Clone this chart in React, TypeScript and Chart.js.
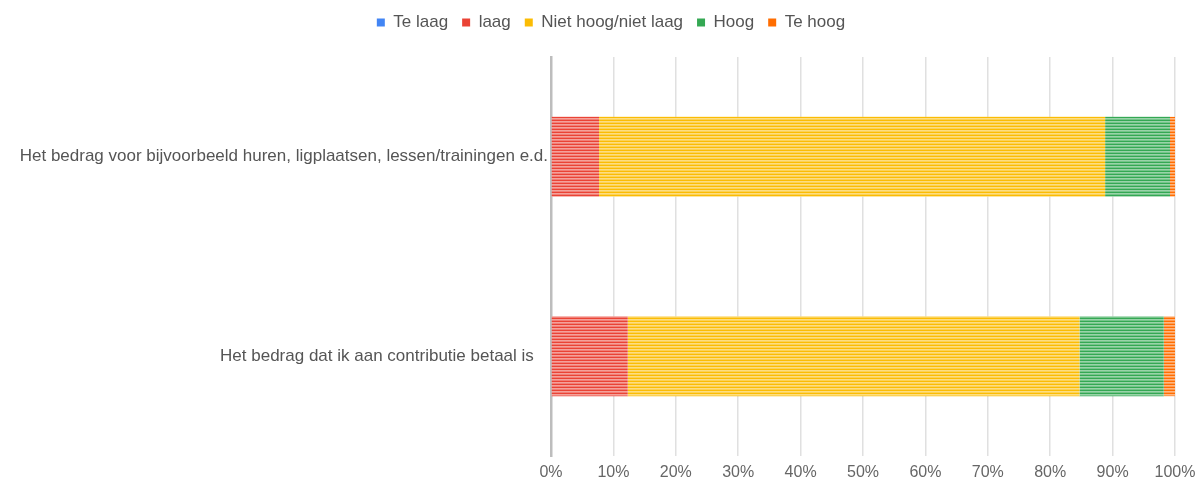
import React, { useEffect, useRef } from "react";
import { Chart, registerables } from "chart.js";

Chart.register(...registerables);

const categories = [
  "Het bedrag voor bijvoorbeeld huren, ligplaatsen, lessen/trainingen e.d.",
  "Het bedrag dat ik aan contributie betaal is   ",
];
const seriesNames = ["Te laag", "laag", "Niet hoog/niet laag", "Hoog", "Te hoog"];
const teLaag = [0, 0];
const laag = [7.7, 12.3];
const nietHoogNietLaag = [81.1, 72.4];
const hoog = [10.4, 13.5];
const teHoog = [0.8, 1.8];
const seriesValues = [teLaag, laag, nietHoogNietLaag, hoog, teHoog];
const seriesColors = ["#4285f4", "#ea4335", "#fbbc04", "#34a853", "#ff6d01"];
const xMin = 0;
const xMax = 100;
const xStep = 10;

function makePattern(target: CanvasRenderingContext2D, color: string) {
  const c = document.createElement("canvas");
  c.width = 4;
  c.height = 3;
  const ctx = c.getContext("2d")!;
  ctx.fillStyle = "#ffffff";
  ctx.fillRect(0, 0, 4, 3);
  ctx.fillStyle = color;
  ctx.globalAlpha = 1;
  ctx.fillRect(0, 0, 4, 1);
  ctx.globalAlpha = 0.5;
  ctx.fillRect(0, 1, 4, 1);
  ctx.globalAlpha = 0.68;
  ctx.fillRect(0, 2, 4, 1);
  return target.createPattern(c, "repeat") as CanvasPattern;
}

const legendSpacer = {
  id: "legendSpacer",
  beforeInit(chart: any) {
    const legend = chart.legend;
    if (!legend) return;
    const orig = legend.fit;
    legend.fit = function () {
      orig.call(legend);
      legend.height = 57;
    };
  },
  afterLayout(chart: any) {
    const legend = chart.legend;
    if (!legend) return;
    legend.left = 47;
    legend.right = 1175;
  },
};

const FONT = "'Liberation Sans', Arial, sans-serif";

export default function App() {
  const ref = useRef<HTMLCanvasElement | null>(null);

  useEffect(() => {
    const canvas = ref.current;
    if (!canvas) return;
    const ctx = canvas.getContext("2d")!;
    const chart = new Chart(ctx, {
      type: "bar",
      data: {
        labels: categories,
        datasets: seriesNames.map((name, i) => ({
          label: name,
          data: seriesValues[i],
          backgroundColor: makePattern(ctx, seriesColors[i]),
          borderWidth: 0,
          barPercentage: 0.5,
          categoryPercentage: 0.8,
        })),
      },
      options: {
        indexAxis: "y",
        responsive: false,
        animation: false,
        layout: { padding: { left: 0, right: 25, top: 0, bottom: 0 } },
        plugins: {
          tooltip: { enabled: false },
          legend: {
            position: "top",
            align: "center",
            labels: {
              boxWidth: 8,
              boxHeight: 8,
              padding: 14,
              color: "#555555",
              font: { family: FONT, size: 17, lineHeight: 1 },
              generateLabels: (ch: any) => {
                const items = Chart.defaults.plugins.legend.labels.generateLabels(ch);
                return items.map((it: any, i: number) => ({
                  ...it,
                  fillStyle: seriesColors[i],
                  strokeStyle: seriesColors[i],
                  lineWidth: 0,
                }));
              },
            },
          },
        },
        scales: {
          x: {
            stacked: true,
            min: xMin,
            max: xMax,
            border: { display: false },
            grid: { color: "#e0e0e0", lineWidth: 1.5, drawTicks: false },
            ticks: {
              stepSize: xStep,
              padding: 7,
              color: "#666666",
              font: { family: FONT, size: 16 },
              callback: (v: any) => `${v}%`,
            },
            afterFit: (scale: any) => {
              scale.height = 28;
              scale.paddingRight = 0;
              scale.paddingLeft = 0;
            },
          },
          y: {
            stacked: true,
            border: { display: true, color: "#bdbdbd", width: 2.5 },
            grid: { display: false, drawTicks: false },
            ticks: {
              padding: 3,
              color: "#555555",
              font: { family: FONT, size: 17 },
            },
            afterFit: (scale: any) => {
              scale.width = 551;
              scale.paddingTop = 0;
              scale.paddingBottom = 0;
            },
          },
        },
      },
      plugins: [legendSpacer],
    } as any);
    return () => chart.destroy();
  }, []);

  return (
    <div style={{ position: "absolute", left: 0, top: 0, width: 1200, height: 484 }}>
      <canvas ref={ref} width={1200} height={484} style={{ width: 1200, height: 484 }} />
    </div>
  );
}
